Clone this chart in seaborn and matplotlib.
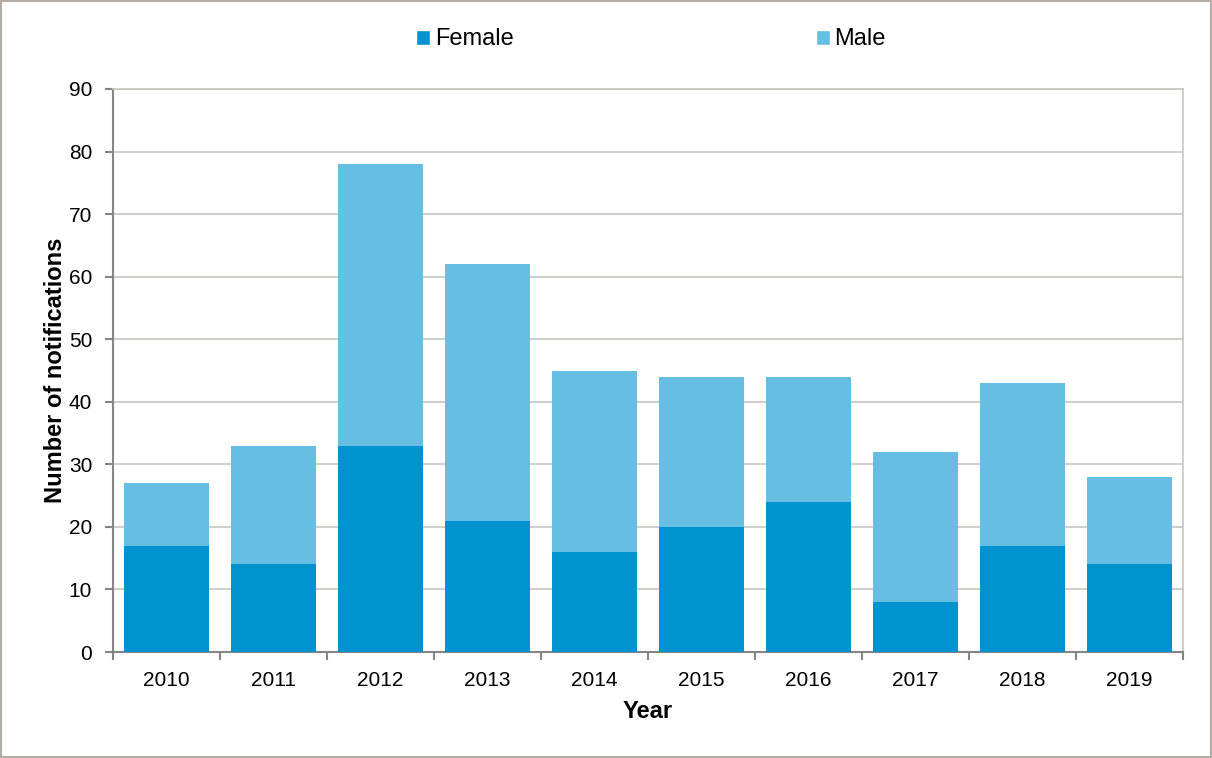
import numpy as np
import pandas as pd
import seaborn as sns
import matplotlib.pyplot as plt
from matplotlib.patches import Patch

years = ["2010", "2011", "2012", "2013", "2014", "2015", "2016", "2017", "2018", "2019"]
female = [17, 14, 33, 21, 16, 20, 24, 8, 17, 14]
male = [10, 19, 45, 41, 29, 24, 20, 24, 26, 14]

FEMALE_COL = "#0093CF"
MALE_COL = "#66BEE2"
GRID_COL = "#C9C5BF"
AXIS_COL = "#858585"

df = pd.DataFrame({"Year": years, "Female": female, "Male": male})
df["Total"] = df["Female"] + df["Male"]

sns.set_style("white", {"xtick.bottom": True, "ytick.left": True,
                        "text.color": "black", "xtick.color": "black",
                        "ytick.color": "black", "axes.labelcolor": "black"})
plt.rcParams["font.family"] = ["Liberation Sans", "DejaVu Sans"]

fig = plt.figure(figsize=(12.12, 7.58), dpi=100)
ax = fig.add_axes([0.0932, 0.1398, 0.8830, 0.7428])

# stacked bars: draw the total in the male colour, then female on top of it
sns.barplot(data=df, x="Year", y="Total", color=MALE_COL, width=0.8,
            saturation=1, linewidth=0, ax=ax, zorder=3)
sns.barplot(data=df, x="Year", y="Female", color=FEMALE_COL, width=0.8,
            saturation=1, linewidth=0, ax=ax, zorder=3)

ax.set_ylim(0, 90)
ax.set_xlim(-0.5, len(years) - 0.5)
ax.set_yticks(np.arange(0, 91, 10))
ax.yaxis.grid(True, color=GRID_COL, linewidth=1.2, zorder=0)
ax.set_axisbelow(True)

# ticks at category boundaries, labels centred
ax.set_xticks(np.arange(-0.5, len(years), 1), minor=False)
ax.set_xticklabels([])
ax.set_xticks(np.arange(len(years)), minor=True)
ax.set_xticklabels(years, minor=True)
ax.tick_params(axis="x", which="major", length=6, width=1.5, color=AXIS_COL,
               direction="out", bottom=True)
ax.tick_params(axis="x", which="minor", length=0, pad=14, labelsize=15,
               labelcolor="black")
ax.tick_params(axis="y", length=6, width=1.5, color=AXIS_COL, direction="out",
               labelsize=15, pad=9, left=True, labelcolor="black")

for side in ["left", "bottom"]:
    ax.spines[side].set_color(AXIS_COL)
    ax.spines[side].set_linewidth(1.5)
ax.spines["right"].set_color(GRID_COL)
ax.spines["right"].set_linewidth(1.2)
ax.spines["top"].set_color(GRID_COL)
ax.spines["top"].set_linewidth(1.2)

ax.set_xlabel("Year", fontsize=17, fontweight="bold", labelpad=7, color="black")
ax.set_ylabel("Number of notifications", fontsize=17, fontweight="bold",
              labelpad=1, color="black")

handles = [Patch(facecolor=FEMALE_COL, label="Female"),
           Patch(facecolor=MALE_COL, label="Male")]
fig.legend(handles=handles, loc="center", bbox_to_anchor=(0.537, 0.948), ncol=2,
           frameon=False, fontsize=17, handlelength=0.6, handleheight=0.6,
           handletextpad=0.2, columnspacing=12.8)

# outer border
fig.patches.append(plt.Rectangle((0.001, 0.001), 0.998, 0.998, transform=fig.transFigure,
                                 fill=False, edgecolor="#B5ADA4", linewidth=1.5))

fig.savefig("out.png", dpi=100)
